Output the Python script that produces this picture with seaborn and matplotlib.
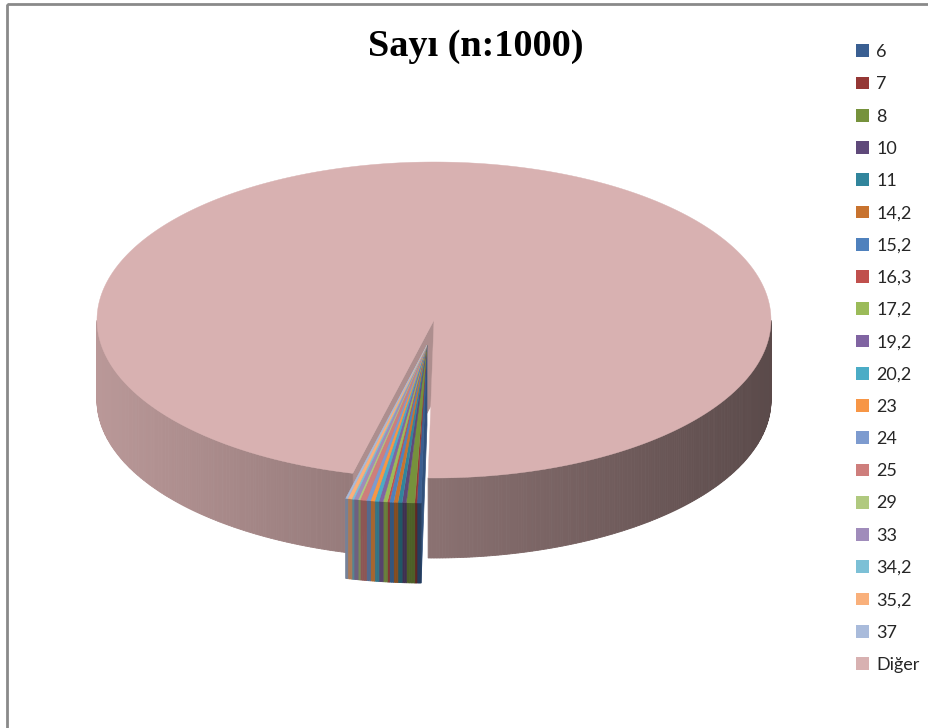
import numpy as np
import seaborn as sns
import matplotlib.pyplot as plt
from matplotlib.patches import Polygon, Rectangle, Patch
from matplotlib.colors import to_rgb

sns.set_theme(style="white")
plt.rcParams['font.family'] = ['Lato', 'DejaVu Sans']

# data (counts, n = 1000)
categories = ['6', '7', '8', '10', '11', '14,2', '15,2', '16,3', '17,2', '19,2',
              '20,2', '23', '24', '25', '29', '33', '34,2', '35,2', '37', 'Diğer']
counts = [2, 1, 4, 2, 2, 2, 2, 1, 2, 2, 2, 2, 2, 3, 1, 2, 1, 2, 1, 964]
colors = ['#3A5F92', '#953735', '#76923C', '#5F497A', '#31859C', '#C8732F',
          '#4F81BD', '#C0504D', '#9BBB59', '#8064A2', '#4BACC6', '#F79646',
          '#7D9BCF', '#CE7E7C', '#B0C97F', '#A08CBB', '#7CC0D6', '#F9B07B',
          '#A9BBDB', '#D8B1B1']
title = 'Sayı (n:1000)'

# 3d pie layout (pixel coordinates)
cx, cy = 434, 320
rx, ry = 337, 158
depth = 80
start = -91.0
explode = 0.16

fig = plt.figure(figsize=(9.29, 7.28), dpi=100)
ax = fig.add_axes([0, 0, 1, 1])
ax.set_xlim(0, 929)
ax.set_ylim(728, 0)
ax.axis('off')

vals = np.array(counts, dtype=float)
deg = vals / vals.sum() * 360
hi = start - np.concatenate([[0], np.cumsum(deg)[:-1]])
lo = hi - deg


def pt(t, off, dz=0.0):
    r = np.radians(t)
    return (cx + off[0] + rx * np.cos(r), cy + off[1] - ry * np.sin(r) + dz)


def shade(c, f):
    return tuple(min(1, v * f) for v in to_rgb(c))


def draw_slice_group(idx, off, z):
    a, b = lo[idx[-1]], hi[idx[0]]
    center = (cx + off[0], cy + off[1])
    # radial walls facing the viewer
    for ang, ok, c in [(a, np.cos(np.radians(a)) > 0, colors[idx[-1]]),
                       (b, np.cos(np.radians(b)) < 0, colors[idx[0]])]:
        if ok:
            p = pt(ang, off)
            poly = [center, p, (p[0], p[1] + depth), (center[0], center[1] + depth)]
            f = 0.85 if len(idx) > 1 else 0.8
            ax.add_patch(Polygon(poly, closed=True, fc=shade(c, f), ec=shade(c, f),
                                 lw=0.5, zorder=z))
    # outer walls with side lighting
    for i in idx:
        ts = np.linspace(lo[i], hi[i], max(3, int(deg[i] * 2) + 2))
        for t0, t1 in zip(ts[:-1], ts[1:]):
            tm = np.radians((t0 + t1) / 2)
            if np.sin(tm) >= 0:
                continue
            f = 0.64 - 0.22 * np.cos(tm)
            p0, p1 = pt(t0, off), pt(t1, off)
            poly = [p0, p1, (p1[0], p1[1] + depth), (p0[0], p0[1] + depth)]
            col = shade(colors[i], f)
            ax.add_patch(Polygon(poly, closed=True, fc=col, ec=col, lw=0.6, zorder=z + 1))
    # top faces
    for i in idx:
        ts = np.linspace(lo[i], hi[i], max(3, int(deg[i] * 2) + 2))
        poly = [center] + [pt(t, off) for t in ts]
        ax.add_patch(Polygon(poly, closed=True, fc=colors[i], ec=colors[i],
                             lw=0.3, zorder=z + 2, label=categories[i]))


# big slice first, then the exploded small ones in front
draw_slice_group([len(counts) - 1], (0, 0), 1)
small = list(range(len(counts) - 1))
mid = np.radians((hi[small[0]] + lo[small[-1]]) / 2)
off = (explode * rx * np.cos(mid), -explode * ry * np.sin(mid))
draw_slice_group(small, off, 5)

fig.text(476 / 929, 1 - 46 / 728, title, ha='center', va='center',
         family='Liberation Serif', fontweight='bold', fontsize=27.5, color='black')

handles = [Patch(facecolor=c, edgecolor='none') for c in colors]
fig.legend(handles, categories, loc='upper left', bbox_to_anchor=(856 / 929, 1 - 44 / 728),
           frameon=False, fontsize=13, labelspacing=0.9, handlelength=0.72,
           handleheight=0.72, handletextpad=0.4, borderpad=0, borderaxespad=0)

ax.add_patch(Rectangle((7, 4), 960, 800, fill=False, ec='#8a8a8a', lw=2, zorder=20))

plt.savefig('out.png', dpi=100)
plt.close()
